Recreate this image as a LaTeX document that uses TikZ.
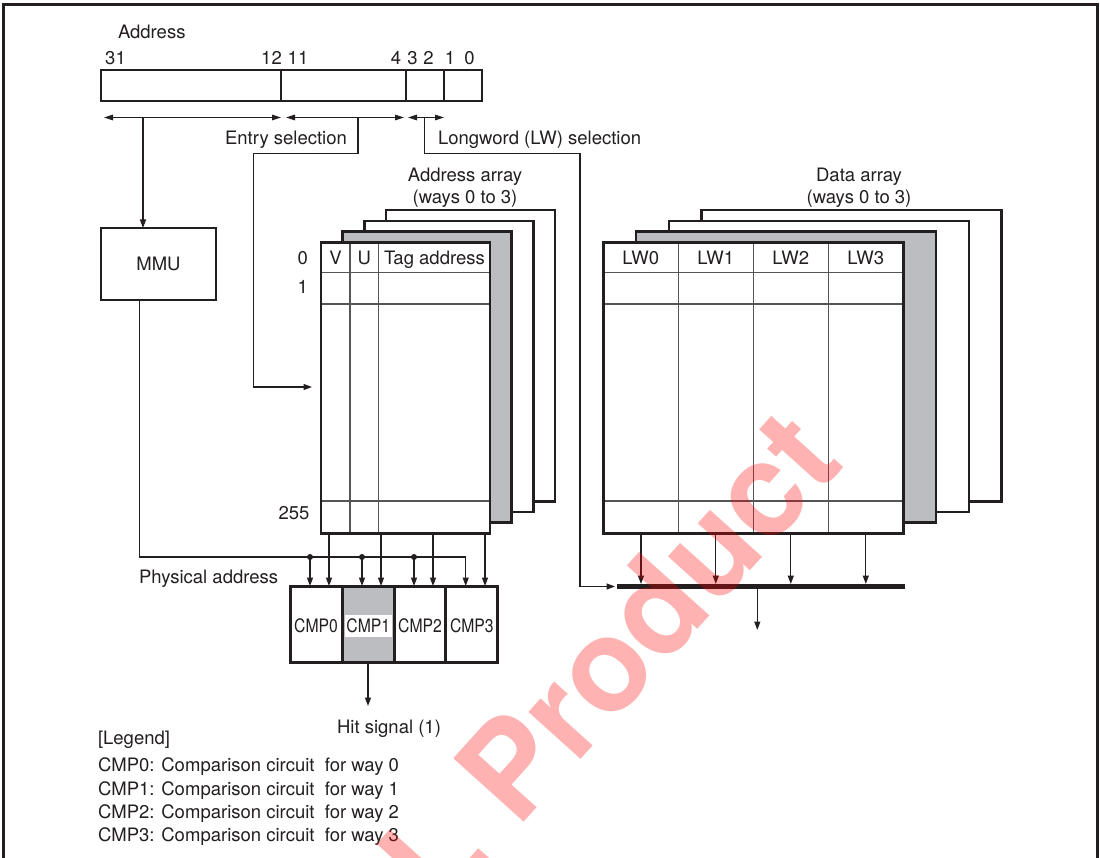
\documentclass[tikz,border=0pt]{standalone}
\usepackage{fontspec}
\setmainfont{TeX Gyre Heros}
\usetikzlibrary{arrows.meta,calc}
\definecolor{ink}{HTML}{231F20}
\definecolor{sheetgray}{HTML}{BBBDC0}
\definecolor{gridc}{HTML}{555557}
\begin{document}
\begin{tikzpicture}[x=1pt,y=-1pt,
  every node/.style={inner sep=0pt,outer sep=0pt,text=ink},
  lbl/.style={font=\fontsize{18.5}{22}\selectfont},
  cmptxt/.style={font=\fontsize{18.5}{22}\selectfont,xscale=0.85},
  ln/.style={draw=ink,line width=1.3pt},
  tipped/.style={ln,-{Triangle[length=8.5pt,width=6pt]}},
  both/.style={ln,{Triangle[length=9pt,width=5.5pt]}-{Triangle[length=9pt,width=5.5pt]}},
  field/.style={draw=ink,line width=1.3pt,fill=white,minimum height=31},
  sheet/.style={draw=ink,line width=2.6pt},
  gridline/.style={draw=gridc,line width=1.4pt},
  cmpcell/.style={draw=ink,line width=3pt,minimum width=52,minimum height=76.3},
  junction/.style={circle,fill=ink,minimum size=6}
]
\useasboundingbox (0,0) rectangle (1100,858);
\fill[white] (0,0) rectangle (1100,858);
% frame
\draw[draw=ink,line width=3pt] (3,858) -- (3,5) -- (1097,5) -- (1097,858);

% ---------- address register ----------
\node[lbl,anchor=base west] (tAddr) at (118,38.3) {Address};
\node[lbl,anchor=base] (b31) at (115.5,64.6) {31};
\node[lbl,anchor=base] (b12) at (271.5,64.6) {12};
\node[lbl,anchor=base] (b11) at (298,64.6) {11};
\node[lbl,anchor=base] (b4) at (396,64.6) {4};
\node[lbl,anchor=base] (b3) at (412.5,64.6) {3};
\node[lbl,anchor=base] (b2) at (428.5,64.6) {2};
\node[lbl,anchor=base] (b1) at (450,64.6) {1};
\node[lbl,anchor=base] (b0) at (469.5,64.6) {0};

\node[field,minimum width=180] (fA) at (191,85.5) {};
\node[field,minimum width=125] (fB) at (343.5,85.5) {};
\node[field,minimum width=38] (fC) at (425,85.5) {};
\node[field,minimum width=38] (fD) at (463,85.5) {};

\coordinate (aL1) at (104,117.5);
\coordinate (aR1) at (281,117.5);
\coordinate (aL2) at (286,117.5);
\coordinate (aR2) at (404,117.5);
\coordinate (aL3) at (408,117.5);
\coordinate (aR3) at (444,117.5);
\draw[both] (aL1) -- (aR1);
\draw[both] (aL2) -- (aR2);
\draw[both] (aL3) -- (aR3);

\node[lbl,anchor=base] (tEntry) at (286,144.6) {Entry selection};
\node[lbl,anchor=base west] (tLW) at (438,144.6) {Longword (LW) selection};

% ---------- MMU ----------
\node[draw=ink,line width=2.2pt,minimum width=115,minimum height=72,lbl] (mmu) at (158.5,264) {MMU};
\coordinate (dMMU) at (143,117.5);
\draw[tipped] (dMMU) -- (dMMU |- mmu.north);

% ---------- address array ----------
\node[lbl,anchor=base] (tAA1) at (465,181.6) {Address array};
\node[lbl,anchor=base] (tAA2) at (465,203.3) {(ways 0 to 3)};
\foreach \k/\f in {3/white,2/white,1/sheetgray}
  \draw[sheet,fill=\f] ({321+21.7*\k},{242.3-10.7*\k}) rectangle ++(169,291);
\node[fill=white,minimum width=169,minimum height=291] (aa) at (405.5,387.8) {};
\draw[gridline] (321,272.7) -- (490,272.7);
\draw[gridline] (321,304) -- (490,304);
\draw[gridline] (321,501) -- (490,501);
\draw[gridline] (350,242.3) -- (350,533.3);
\draw[gridline] (378.7,242.3) -- (378.7,533.3);
\draw[sheet] (aa.north west) rectangle (aa.south east);
\node[lbl,anchor=base] (hV) at (335.5,264.6) {V};
\node[lbl,anchor=base] (hU) at (364.3,264.6) {U};
\node[lbl,anchor=base] (hT) at (434.4,264.6) {Tag address};
\node[lbl,anchor=base] (r0) at (302.7,264.6) {0};
\node[lbl,anchor=base] (r1) at (302.7,293.6) {1};
\node[lbl,anchor=base] (r255) at (294,519.6) {255};

% entry selection path
\coordinate (dE) at (358,117.5);
\coordinate (e1) at (358,153.5);
\coordinate (e2) at (253.5,153.5);
\coordinate (e3) at (253.5,387);
\coordinate (e4) at (312,387);
\draw[tipped] (dE) -- (e1) -- (e2) -- (e3) -- (e4);

% ---------- data array ----------
\node[lbl,anchor=base] (tDA1) at (859,181.6) {Data array};
\node[lbl,anchor=base] (tDA2) at (859,203.3) {(ways 0 to 3)};
\foreach \k/\f in {3/white,2/white,1/sheetgray}
  \draw[sheet,fill=\f] ({603.3+32.8*\k},{242.3-10.7*\k}) rectangle ++(300,291);
\node[fill=white,minimum width=300,minimum height=291] (da) at (753.3,387.8) {};
\draw[gridline] (603.3,272.7) -- (903.3,272.7);
\draw[gridline] (603.3,304) -- (903.3,304);
\draw[gridline] (603.3,501) -- (903.3,501);
\foreach \x in {678.3,753.3,828.3}
  \draw[gridline] (\x,242.3) -- (\x,533.3);
\draw[sheet] (da.north west) rectangle (da.south east);
\node[lbl,anchor=base] (lw0) at (640.8,264.6) {LW0};
\node[lbl,anchor=base] (lw1) at (715.8,264.6) {LW1};
\node[lbl,anchor=base] (lw2) at (790.8,264.6) {LW2};
\node[lbl,anchor=base] (lw3) at (865.8,264.6) {LW3};

% bus
\coordinate (busL) at (617,586.5);
\coordinate (busR) at (905,586.5);
\draw[draw=ink,line width=5.5pt] (busL) -- (busR);
\foreach \x [count=\i] in {641,715.8,790.8,865.8} {
  \coordinate (ds\i) at (\x,533.3);
  \coordinate (de\i) at (\x,584);
  \draw[tipped] (ds\i) -- (de\i);
}
\coordinate (bo) at (757.3,589);
\coordinate (boe) at (757.3,630);
\draw[tipped] (bo) -- (boe);

% longword selection path
\coordinate (dL) at (424.5,117.5);
\coordinate (l1) at (424.5,153.5);
\coordinate (l2) at (580,153.5);
\coordinate (l3) at (580,586.5);
\coordinate (l4) at (615,586.5);
\draw[tipped] (dL) -- (l1) -- (l2) -- (l3) -- (l4);

% ---------- comparators ----------
\node[cmpcell,fill=white] (c0) at (316,624.2) {};
\node[cmpcell,fill=sheetgray] (c1) at (368,624.2) {};
\node[cmpcell,fill=white] (c2) at (420,624.2) {};
\node[cmpcell,fill=white] (c3) at (471.85,624.2) {};
\node[cmptxt] (c0t) at (316,625.8) {CMP0};
\node[fill=white,minimum width=46.7,minimum height=21.7] (c1b) at (368.3,625.8) {};
\node[cmptxt] (c1t) at (368.3,625.8) {CMP1};
\node[cmptxt] (c2t) at (420,625.8) {CMP2};
\node[cmptxt] (c3t) at (471.85,625.8) {CMP3};

% address array -> comparators
\foreach \x [count=\i] in {329,381,433,485} {
  \coordinate (as\i) at (\x,533.3);
}
\draw[tipped] (as1) -- (as1 |- c0.north);
\draw[tipped] (as2) -- (as2 |- c1.north);
\draw[tipped] (as3) -- (as3 |- c2.north);
\draw[tipped] (as4) -- (as4 |- c3.north);

% physical address
\coordinate (pA) at (139.5,557);
\coordinate (pC) at (465.7,557);
\draw[tipped] (mmu.south -| pA) -- (pA) -- (pC) -- (pC |- c3.north);
\node[junction] (j0) at (310,557) {};
\node[junction] (j1) at (362,557) {};
\node[junction] (j2) at (414,557) {};
\draw[tipped] (j0.center) -- (j0 |- c0.north);
\draw[tipped] (j1.center) -- (j1 |- c1.north);
\draw[tipped] (j2.center) -- (j2 |- c2.north);
\node[lbl,anchor=base west] (tPhys) at (139,583.5) {Physical address};

% hit signal
\coordinate (hit) at (368,706);
\draw[tipped] (c1.south) -- (hit);
\node[lbl,anchor=base] (tHit) at (389,733.6) {Hit signal (1)};

% legend
\node[lbl,anchor=base west] (lg) at (98,744.4) {{[}Legend{]}};
\node[lbl,anchor=base west] (lg0) at (98,771.8) {CMP0: Comparison circuit\ \ for way 0};
\node[lbl,anchor=base west] (lg1) at (98,795.1) {CMP1: Comparison circuit\ \ for way 1};
\node[lbl,anchor=base west] (lg2) at (98,818.4) {CMP2: Comparison circuit\ \ for way 2};
\node[lbl,anchor=base west] (lg3) at (98,841.7) {CMP3: Comparison circuit\ \ for way 3};

% watermark
\begin{scope}
\clip (0,0) rectangle (1100,858);
\node[rotate=48,text=red,text opacity=0.3,font=\fontsize{130}{130}\selectfont\bfseries] (wm) at (545,728) {EOL Product};
\end{scope}
\end{tikzpicture}
\end{document}
